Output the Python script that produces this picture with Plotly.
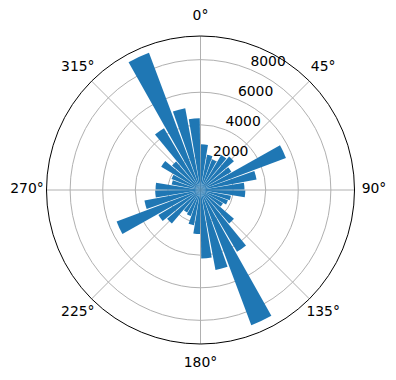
import plotly.graph_objects as go

# bin centres (degrees, clockwise from north) and counts
directions = [5 + 10 * i for i in range(36)]
counts = [
    2800, 2200, 2000, 2500, 2700, 2200, 5600, 3500, 2700,   # 0-90
    2750, 1900, 1800, 1600, 2700, 4400, 8860, 5000, 4200,   # 90-180
    2700, 2200, 1700, 1600, 2700, 3000, 5500, 3500, 2780,   # 180-270
    2760, 1800, 1900, 2800, 2300, 4400, 8990, 5100, 4400,   # 270-360
]
angle_ticks = [0, 45, 90, 135, 180, 225, 270, 315]
angle_labels = [f"{a}°" for a in angle_ticks]
radial_ticks = [2000, 4000, 6000, 8000]
radial_labels = [str(v) for v in radial_ticks]
r_max = 9450
label_angle = 22.5

W, H = 396, 380
cx, cy, R = 200.5, 190, 154      # main polar circle (px)
R2 = 184                         # helper polar used to place angle labels
label_frac = 173.5 / R2
FONT = dict(family="DejaVu Sans", size=13.9, color="black")

fig = go.Figure()
fig.add_trace(go.Barpolar(
    r=counts,
    theta=directions,
    marker=dict(color="#1f77b4", line=dict(width=0)),
    hoverinfo="skip",
))
# radial tick labels, anchored bottom-left at the tick on the 22.5° ray
fig.add_trace(go.Scatterpolar(
    r=radial_ticks, theta=[label_angle] * len(radial_ticks),
    mode="text", text=radial_labels, textposition="top right",
    textfont=FONT, hoverinfo="skip", cliponaxis=False,
))
# angular tick labels outside the circle (on a larger, invisible polar)
fig.add_trace(go.Scatterpolar(
    r=[label_frac] * len(angle_ticks), theta=angle_ticks,
    mode="text", text=angle_labels, textposition="middle center",
    textfont=FONT, hoverinfo="skip", cliponaxis=False, subplot="polar2",
))

def dom(rad):
    return dict(x=[(cx - rad) / W, (cx + rad) / W],
                y=[1 - (cy + rad) / H, 1 - (cy - rad) / H])

fig.update_layout(
    width=W, height=H,
    margin=dict(l=0, r=0, t=0, b=0),
    paper_bgcolor="white",
    showlegend=False,
    font=FONT,
    polar=dict(
        domain=dom(R),
        bgcolor="white",
        bargap=0.12,
        angularaxis=dict(
            rotation=90, direction="clockwise",
            tickmode="array", tickvals=angle_ticks, ticktext=angle_labels,
            showticklabels=False, ticks="",
            showgrid=True, gridcolor="#b0b0b0", gridwidth=0.8,
            showline=True, linecolor="black", linewidth=1,
        ),
        radialaxis=dict(
            range=[0, r_max], angle=67.5,
            tickmode="array", tickvals=radial_ticks, ticktext=radial_labels,
            showticklabels=False,
            showgrid=True, gridcolor="#b0b0b0", gridwidth=0.8,
            showline=False, ticks="",
        ),
    ),
    polar2=dict(
        domain=dom(R2),
        bgcolor="rgba(0,0,0,0)",
        angularaxis=dict(rotation=90, direction="clockwise", visible=False,
                         showgrid=False, showline=False, ticks=""),
        radialaxis=dict(range=[0, 1], visible=False,
                        showgrid=False, showline=False, ticks=""),
    ),
)
fig.write_html("out.html")
